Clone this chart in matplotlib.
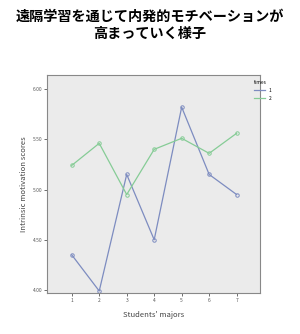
import matplotlib.pyplot as plt

plt.rcParams['font.family'] = ['Noto Sans CJK JP', 'DejaVu Sans']

# data
majors = [1, 2, 3, 4, 5, 6, 7]
times1 = [4.35, 3.99, 5.15, 4.50, 5.82, 5.15, 4.95]
times2 = [5.24, 5.46, 4.95, 5.40, 5.51, 5.36, 5.56]
yticks = [4.00, 4.50, 5.00, 5.50, 6.00]
title = "遠隔学習を通じて内発的モチベーションが\n高まっていく様子"

fig = plt.figure(figsize=(3.0, 3.34), dpi=100)
ax = fig.add_axes([47 / 300, 1 - 293 / 334, 213 / 300, 218 / 334])
ax.set_facecolor('#ebebeb')

ax.plot(majors, times1, color='#7d8cc0', linewidth=0.9, marker='o',
        markersize=2.5, markerfacecolor='none', markeredgewidth=0.7, label='1')
ax.plot(majors, times2, color='#86cc96', linewidth=0.9, marker='o',
        markersize=2.5, markerfacecolor='none', markeredgewidth=0.7, label='2')

ax.set_xlim(0.1, 7.85)
ax.set_ylim(3.97, 6.14)
ax.set_xticks(majors)
ax.set_xticklabels([str(m) for m in majors])
ax.set_yticks(yticks)
ax.set_yticklabels([f"{v:.2f}" for v in yticks])
ax.tick_params(labelsize=3.5, length=2, width=0.6, pad=1.5, colors='#555555')

for s in ax.spines.values():
    s.set_color('#888888')
    s.set_linewidth(0.8)

ax.set_xlabel("Students' majors", fontsize=5.5, color='#444444', labelpad=6)
ax.set_ylabel("Intrinsic motivation scores", fontsize=5.5, color='#444444', labelpad=3)

fig.text(0.5, 1 - 25 / 334, title, ha='center', va='center', fontsize=10.2,
         fontweight='bold', linespacing=1.3)

leg = fig.legend(loc='upper left', bbox_to_anchor=(250 / 300, 1 - 76 / 334),
                 title='times', fontsize=3.5, title_fontsize=3.5, frameon=False,
                 handlelength=2.2, labelspacing=0.6, borderpad=0.3)
leg._legend_box.align = 'left'
for line in leg.get_lines():
    line.set_marker('')

fig.savefig('out.png', dpi=100)
